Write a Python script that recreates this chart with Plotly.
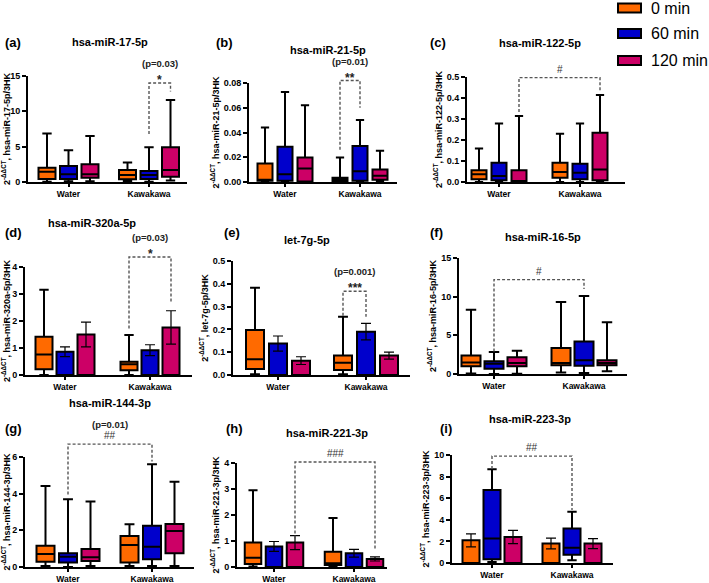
import plotly.graph_objects as go

W, H = 709, 583
SERIES = ["0 min", "60 min", "120 min"]
GROUPS = ["Water", "Kawakawa"]
COLORS = ["#FF6A00", "#0000CC", "#CC0066"]

# Box entries: ("box", lower whisker, q1, median, q3, upper whisker)
# Bar entries: ("bar", mean, sem)
mir17_water = [("box", 0.05, 0.42, 1.46, 2.02, 6.86), ("box", 0.1, 0.42, 1.08, 2.26, 4.5), ("box", 0.1, 0.6, 1.08, 2.5, 6.5)]
mir17_kawa = [("box", 0.1, 0.38, 0.99, 1.7, 2.77), ("box", 0.05, 0.42, 1.0, 1.55, 4.9), ("box", 0.2, 0.75, 1.7, 4.9, 11.6)]

mir21_water = [("box", 0.0, 0.001, 0.0019, 0.015, 0.044), ("box", 0.0, 0.001, 0.0062, 0.0285, 0.0727), ("box", 0.0, 0.0005, 0.011, 0.0198, 0.062)]
mir21_kawa = [("box", 0.0, 0.0003, 0.0019, 0.0035, 0.0198), ("box", 0.0, 0.001, 0.0087, 0.029, 0.050), ("box", 0.0005, 0.0019, 0.005, 0.010, 0.0252)]

mir122_water = [("box", 0.0, 0.013, 0.037, 0.056, 0.159), ("box", 0.0, 0.008, 0.029, 0.092, 0.278), ("box", 0.0, 0.0, 0.003, 0.056, 0.314)]
mir122_kawa = [("box", 0.0, 0.02, 0.048, 0.092, 0.23), ("box", 0.0, 0.013, 0.044, 0.087, 0.278), ("box", 0.0, 0.008, 0.059, 0.235, 0.414)]

mir320_water = [("box", 0.0, 0.21, 0.76, 1.42, 3.16), ("bar", 0.86, 0.18), ("bar", 1.5, 0.46)]
mir320_kawa = [("box", 0.0, 0.18, 0.4, 0.49, 1.48), ("bar", 0.92, 0.2), ("bar", 1.76, 0.62)]

let7g_water = [("box", 0.003, 0.026, 0.069, 0.197, 0.383), ("bar", 0.138, 0.033), ("bar", 0.063, 0.017)]
let7g_kawa = [("box", 0.003, 0.022, 0.054, 0.085, 0.255), ("bar", 0.19, 0.036), ("bar", 0.085, 0.015)]

mir16_water = [("box", 0.05, 1.0, 1.5, 2.4, 8.3), ("box", 0.0, 0.69, 1.34, 1.64, 2.85), ("box", 0.04, 1.0, 1.42, 2.15, 3.0)]
mir16_kawa = [("box", 0.2, 1.12, 1.42, 3.36, 9.3), ("box", 0.13, 1.08, 1.77, 4.2, 10.1), ("box", 0.34, 1.12, 1.42, 1.77, 6.7)]

mir144_water = [("box", 0.05, 0.29, 0.71, 1.16, 4.42), ("box", 0.0, 0.24, 0.56, 0.75, 3.7), ("box", 0.05, 0.33, 0.53, 0.98, 3.57)]
mir144_kawa = [("box", 0.05, 0.24, 1.2, 1.69, 2.33), ("box", 0.05, 0.42, 1.1, 2.25, 5.6), ("box", 0.05, 0.75, 1.96, 2.35, 4.65)]

mir221_water = [("box", 0.02, 0.12, 0.36, 0.94, 2.95), ("bar", 0.79, 0.19), ("bar", 0.94, 0.27)]
mir221_kawa = [("box", 0.02, 0.08, 0.14, 0.59, 1.88), ("bar", 0.53, 0.15), ("bar", 0.31, 0.08)]

mir223_water = [("bar", 2.1, 0.6), ("box", 0.09, 0.34, 2.26, 6.75, 8.67), ("bar", 2.41, 0.62)]
mir223_kawa = [("bar", 1.8, 0.5), ("box", 0.25, 0.77, 1.42, 3.19, 4.74), ("bar", 1.8, 0.46)]

# significance brackets: (from group, from series, to group, to series, left end, top, right end, star label, p label)
mir17_sig = (1, 1, 1, 2, 6.8, 14.0, 12.8, "*", "(p=0.03)")
mir21_sig = (1, 0, 1, 1, 0.026, 0.082, 0.060, "**", "(p=0.01)")
mir122_sig = (0, 2, 1, 2, 0.333, 0.497, 0.437, "#", "")
mir320_sig = (1, 0, 1, 2, 1.72, 4.37, 2.67, "*", "(p=0.03)")
let7g_sig = (1, 0, 1, 1, 0.26, 0.367, 0.255, "***", "(p=0.001)")
mir16_sig = (0, 1, 1, 1, 2.9, 12.2, 11.0, "#", "")
mir144_sig = (0, 1, 1, 1, 3.95, 6.7, 5.75, "##", "(p=0.01)")
mir221_sig = (0, 2, 1, 2, 1.1, 4.04, 0.66, "###", "")
mir223_sig = (0, 1, 1, 1, 8.7, 9.9, 4.9, "##", "")

panels = [
    dict(title="hsa-miR-17-5p", tag="(a)", water=mir17_water, kawa=mir17_kawa, sig=mir17_sig,
         ytitle="hsa-miR-17-5p/3HK", R=15, dtick=5, fmt="",
         x0=28, x1=187, yt=76, yb=182, wc=68.5, kc=149, sp=21.5, bw=17, tx=110, ty=42, lx=13, ly=43),
    dict(title="hsa-miR-21-5p", tag="(b)", water=mir21_water, kawa=mir21_kawa, sig=mir21_sig,
         ytitle="hsa-miR-21-5p/3HK", R=0.08, dtick=0.02, fmt=".2f",
         x0=249, x1=397, yt=83, yb=182, wc=285, kc=360, sp=20, bw=15, tx=328, ty=50, lx=224, ly=43),
    dict(title="hsa-miR-122-5p", tag="(c)", water=mir122_water, kawa=mir122_kawa, sig=mir122_sig,
         ytitle="hsa-miR-122-5p/3HK", R=0.5, dtick=0.1, fmt=".1f",
         x0=467, x1=625, yt=77, yb=182, wc=499, kc=580, sp=20, bw=15, tx=540, ty=43, lx=438, ly=43),
    dict(title="hsa-miR-320a-5p", tag="(d)", water=mir320_water, kawa=mir320_kawa, sig=mir320_sig,
         ytitle="hsa-miR-320a-5p/3HK", R=4, dtick=1, fmt="",
         x0=25, x1=192, yt=267, yb=375, wc=65, kc=150, sp=21, bw=17, tx=92, ty=223, lx=13, ly=233),
    dict(title="let-7g-5p", tag="(e)", water=let7g_water, kawa=let7g_kawa, sig=let7g_sig,
         ytitle="let-7g-5p/3HK", R=0.5, dtick=0.1, fmt=".1f",
         x0=233, x1=410, yt=261, yb=375, wc=278, kc=366, sp=23, bw=18, tx=307, ty=240, lx=232, ly=233),
    dict(title="hsa-miR-16-5p", tag="(f)", water=mir16_water, kawa=mir16_kawa, sig=mir16_sig,
         ytitle="hsa-miR-16-5p/3HK", R=15, dtick=5, fmt="",
         x0=459, x1=627, yt=258, yb=374, wc=494, kc=584, sp=23, bw=19, tx=543, ty=237, lx=436, ly=233),
    dict(title="hsa-miR-144-3p", tag="(g)", water=mir144_water, kawa=mir144_kawa, sig=mir144_sig,
         ytitle="hsa-miR-144-3p/3HK", R=6, dtick=2, fmt="",
         x0=25, x1=194, yt=457, yb=567, wc=68, kc=152, sp=22.5, bw=18, tx=110, ty=403, lx=13, ly=428),
    dict(title="hsa-miR-221-3p", tag="(h)", water=mir221_water, kawa=mir221_kawa, sig=mir221_sig,
         ytitle="hsa-miR-221-3p/3HK", R=4, dtick=1, fmt="",
         x0=237, x1=387, yt=463, yb=567, wc=274, kc=354, sp=21, bw=16.5, tx=327, ty=433, lx=234, ly=428),
    dict(title="hsa-miR-223-3p", tag="(i)", water=mir223_water, kawa=mir223_kawa, sig=mir223_sig,
         ytitle="hsa-miR-223-3p/3HK", R=10, dtick=2, fmt="",
         x0=452, x1=613, yt=455, yb=563, wc=492, kc=572, sp=21, bw=17, tx=530, ty=419, lx=446, ly=428),
]

FONT = "Arial, Liberation Sans, sans-serif"
fig = go.Figure()
layout = dict(width=W, height=H, margin=dict(l=0, r=0, t=0, b=0), template="none",
              paper_bgcolor="white", plot_bgcolor="rgba(0,0,0,0)", showlegend=False,
              barmode="overlay", boxmode="overlay")
annotations = []
shapes = []
EXT = 45  # extra pixels above each panel for brackets

for i, P in enumerate(panels):
    n = i + 1
    xa = "x" if n == 1 else f"x{n}"
    ya = "y" if n == 1 else f"y{n}"
    ye = f"y{n + 9}"
    s = P["kc"] - P["wc"]
    r0 = 1 - (P["wc"] - P["x0"]) / s
    r1 = r0 + (P["x1"] - P["x0"]) / s
    off = P["sp"] / s
    bw = P["bw"] / s

    def pos(g, k):
        return (g + 1) + (k - 1) * off

    for g, data in enumerate([P["water"], P["kawa"]]):
        for k, item in enumerate(data):
            if item[0] == "box":
                fig.add_trace(go.Box(
                    x=[pos(g, k)], lowerfence=[item[1]], q1=[item[2]], median=[item[3]],
                    q3=[item[4]], upperfence=[item[5]], width=bw, fillcolor=COLORS[k],
                    line=dict(color="black", width=2), whiskerwidth=0.55, boxpoints=False,
                    name=SERIES[k], xaxis=xa, yaxis=ya, hoverinfo="skip", orientation="v"))
            else:
                fig.add_trace(go.Bar(
                    x=[pos(g, k)], y=[item[1]], width=[bw], name=SERIES[k],
                    marker=dict(color=COLORS[k], line=dict(color="black", width=2)),
                    error_y=dict(type="data", array=[item[2]], visible=True, color="black",
                                 thickness=1.2, width=5),
                    xaxis=xa, yaxis=ya, hoverinfo="skip"))

    # significance bracket on an extended (hidden) y axis with the same scale
    g1, k1, g2, k2, yl, ytop, yr, star, ptxt = P["sig"]
    xl, xr = pos(g1, k1), pos(g2, k2)
    fig.add_trace(go.Scatter(x=[xl, xl, xr, xr], y=[yl, ytop, ytop, yr], mode="lines",
                             line=dict(color="#555555", width=1.4, dash="3px,2px"),
                             xaxis=xa, yaxis=ye, hoverinfo="skip"))
    xm = (xl + xr) / 2
    R = P["R"]
    upp = R / (P["yb"] - P["yt"])  # value units per pixel
    is_star = "*" in star
    if is_star:
        annotations.append(dict(x=xm, y=ytop + 3 * upp, xref=xa, yref=ye, text=f"<b>{star}</b>",
                                showarrow=False, yanchor="middle", xanchor="center",
                                font=dict(size=12, family=FONT, color="#222")))
    else:
        annotations.append(dict(x=xm, y=ytop + 1 * upp, xref=xa, yref=ye, text=star,
                                showarrow=False, yanchor="bottom", xanchor="center",
                                font=dict(size=10, family=FONT, color="#333")))
    if ptxt:
        annotations.append(dict(x=xm, y=ytop + 12 * upp, xref=xa, yref=ye, text=f"<b>{ptxt}</b>",
                                showarrow=False, yanchor="bottom", xanchor="center",
                                font=dict(size=9.5, family=FONT, color="#222")))

    axfont = dict(size=9, family=FONT, color="black", weight="bold")
    layout["xaxis" if n == 1 else f"xaxis{n}"] = dict(
        domain=[P["x0"] / W, P["x1"] / W], range=[r0, r1], anchor=ya,
        tickvals=[1, 2], ticktext=GROUPS, tickfont=dict(size=8.5, family=FONT, color="black", weight="bold"),
        showline=True, linewidth=2, linecolor="black", ticks="outside", ticklen=3, tickwidth=2,
        tickcolor="black", showgrid=False, zeroline=False, fixedrange=True, automargin=False)
    layout["yaxis" if n == 1 else f"yaxis{n}"] = dict(
        domain=[1 - P["yb"] / H, 1 - P["yt"] / H], range=[0, R], anchor=xa,
        dtick=P["dtick"], tick0=0, tickformat=P["fmt"], tickfont=axfont,
        showline=True, linewidth=2, linecolor="black", ticks="outside", ticklen=4, tickwidth=2,
        tickcolor="black", showgrid=False, zeroline=False, fixedrange=True, automargin=False,
        title=dict(text=f"<b>2<sup>-ΔΔCT</sup>, {P['ytitle']}</b>", font=dict(size=9, family=FONT, color="black"),
                   standoff=3))
    ext_top = P["yt"] - EXT
    layout[f"yaxis{n + 9}"] = dict(
        domain=[1 - P["yb"] / H, 1 - ext_top / H], range=[0, R * (P["yb"] - ext_top) / (P["yb"] - P["yt"])],
        anchor=xa, visible=False, fixedrange=True, showgrid=False, zeroline=False)

    annotations.append(dict(x=P["tx"] / W, y=1 - P["ty"] / H, xref="paper", yref="paper",
                            text=f"<b>{P['title']}</b>", showarrow=False,
                            xanchor="center", yanchor="middle",
                            font=dict(size=11, family=FONT, color="black")))
    annotations.append(dict(x=P["lx"] / W, y=1 - P["ly"] / H, xref="paper", yref="paper",
                            text=f"<b>{P['tag']}</b>", showarrow=False,
                            xanchor="center", yanchor="middle",
                            font=dict(size=13, family=FONT, color="black")))

# legend drawn manually
leg_y = [8, 33.5, 60.5]
for k, name in enumerate(SERIES):
    cy = leg_y[k]
    shapes.append(dict(type="rect", xref="paper", yref="paper", x0=618 / W, x1=641 / W,
                       y0=1 - (cy + 4.5) / H, y1=1 - (cy - 4.5) / H,
                       fillcolor=COLORS[k], line=dict(color="black", width=2)))
    annotations.append(dict(x=649 / W, y=1 - cy / H, xref="paper", yref="paper", text=name,
                            showarrow=False, xanchor="left", yanchor="middle",
                            font=dict(size=16, family=FONT, color="black")))

layout["annotations"] = annotations
layout["shapes"] = shapes
fig.update_layout(**layout)
fig.write_html("out.html", config={"displayModeBar": False},
               post_script="document.body.style.margin='0px';document.body.style.overflow='hidden';")
